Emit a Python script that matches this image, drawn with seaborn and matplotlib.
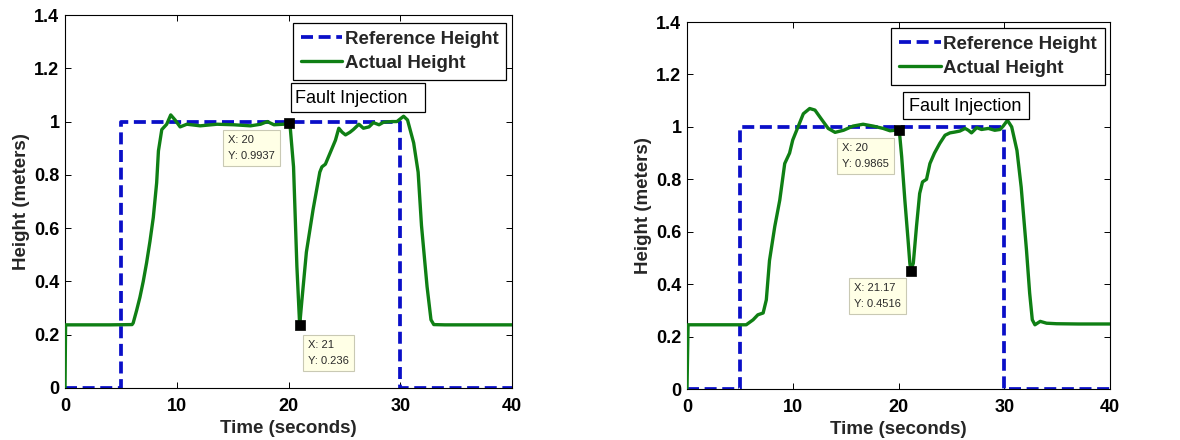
import numpy as np
import pandas as pd
import matplotlib
matplotlib.use("Agg")
import matplotlib.pyplot as plt
import seaborn as sns
from matplotlib.patches import Rectangle

sns.set_style("ticks")
plt.rcParams['font.family'] = ['Liberation Sans', 'DejaVu Sans']

# ---------------- data ----------------
ref_time = [0, 5, 5, 30, 30, 40]
ref_height = [0, 0, 1, 1, 0, 0]

left_time = [0, 0.05, 2, 4, 6.0, 6.1, 6.4, 6.7, 7.0, 7.3, 7.6, 7.9, 8.2, 8.36, 8.66,
             9.1, 9.46, 9.85, 10.3, 10.9, 12.1, 13.6, 15.1, 16.6, 17.5, 18.1, 18.7,
             19.55, 20.0, 20.15, 20.45, 20.75, 20.96, 21.0, 21.2, 21.6, 22.2, 22.8,
             22.99, 23.3, 23.7, 24.2, 24.5, 24.8, 25.1, 25.5, 25.8, 26.3, 26.7, 27.2,
             27.6, 28.1, 28.5, 29.25, 29.7, 30.3, 30.65, 31.2, 31.6, 31.9, 32.4,
             32.75, 33.0, 34, 36, 38, 40]
left_height = [0, 0.237, 0.237, 0.237, 0.238, 0.244, 0.29, 0.34, 0.40, 0.47, 0.55,
               0.64, 0.77, 0.89, 0.97, 0.99, 1.025, 1.006, 0.98, 0.99, 0.984, 0.99,
               0.988, 0.984, 0.99, 1.0, 0.988, 0.99, 0.9937, 0.98, 0.83, 0.456, 0.27,
               0.236, 0.33, 0.51, 0.67, 0.81, 0.83, 0.84, 0.88, 0.93, 0.975, 0.96,
               0.95, 0.96, 0.97, 0.99, 0.975, 0.98, 0.996, 0.988, 0.9975, 1.0, 1.0,
               1.02, 1.006, 0.92, 0.81, 0.61, 0.38, 0.256, 0.238, 0.237, 0.237,
               0.237, 0.237]

right_time = [0, 0.1, 3, 5.6, 6.25, 6.7, 7.2, 7.5, 7.8, 8.3, 8.77, 9.24, 9.7, 10.0,
              10.5, 11.0, 11.6, 12.1, 12.7, 13.35, 14.0, 14.8, 15.7, 16.65, 17.6,
              18.55, 19.2, 19.65, 20.0, 20.1, 20.3, 20.6, 20.9, 21.07, 21.17, 21.4,
              21.7, 22.0, 22.27, 22.65, 22.97, 23.4, 23.9, 24.4, 24.86, 25.3, 25.8,
              26.3, 26.6, 26.9, 27.4, 27.85, 28.5, 29.1, 29.6, 29.9, 30.3, 30.7,
              31.2, 31.6, 32.1, 32.4, 32.65, 32.9, 33.4, 34.0, 34.95, 37, 40]
right_height = [0, 0.245, 0.245, 0.245, 0.264, 0.283, 0.29, 0.34, 0.49, 0.62, 0.72,
                0.86, 0.90, 0.95, 1.0, 1.05, 1.07, 1.064, 1.03, 0.994, 0.979, 0.987,
                1.003, 1.01, 1.003, 0.994, 0.985, 0.987, 0.9865, 0.975, 0.886, 0.72,
                0.57, 0.48, 0.4516, 0.48, 0.62, 0.746, 0.79, 0.80, 0.86, 0.90, 0.937,
                0.968, 0.977, 0.98, 0.984, 0.994, 0.987, 0.977, 0.997, 0.99, 0.994,
                0.987, 0.99, 1.003, 1.025, 1.0, 0.91, 0.77, 0.53, 0.366, 0.264, 0.245,
                0.258, 0.251, 0.249, 0.248, 0.248]

left_tip_x = [20, 21]
left_tip_y = [0.9937, 0.236]
right_tip_x = [20, 21.17]
right_tip_y = [0.9865, 0.4516]

x_ticks = [0, 10, 20, 30, 40]
y_ticks = [0, 0.2, 0.4, 0.6, 0.8, 1.0, 1.2, 1.4]
y_tick_labels = ["0", "0.2", "0.4", "0.6", "0.8", "1", "1.2", "1.4"]
legend_labels = ["Reference Height", "Actual Height"]
annot_text = "Fault Injection"

# ---------------- style ----------------
BLUE = "#0a0fc8"
GREEN = "#0f7f14"
TIP_FACE = "#ffffe6"
TIP_EDGE = "#c9c9b4"

fig = plt.figure(figsize=(11.8, 4.4), dpi=100)
axL = fig.add_axes([0.0551, 0.1182, 0.3788, 0.8477])
axR = fig.add_axes([0.5822, 0.1159, 0.3585, 0.8341])


def draw_panel(ax, t, h, tip_x, tip_y, leg_anchor, fault_box, fault_txt, tip_txt_pos):
    sns.lineplot(x=ref_time, y=ref_height, ax=ax, color=BLUE, linewidth=2.7,
                 estimator=None, sort=False, legend=False, zorder=2)
    ax.lines[-1].set_dashes((3.2, 1.5))
    sns.lineplot(x=t, y=h, ax=ax, color=GREEN, linewidth=2.4,
                 estimator=None, sort=False, legend=False, zorder=3)
    # data cursor markers
    sns.scatterplot(x=tip_x, y=tip_y, ax=ax, marker="s", s=45, color="black",
                    edgecolor="black", linewidth=0.5, zorder=5, legend=False)
    for (px, py), xv, yv in zip(tip_txt_pos, tip_x, tip_y):
        ax.text(px, py, f"X: {xv:g}\nY: {yv:g}", fontsize=8, color="#2a2a2a",
                ha="left", va="top", linespacing=1.75, zorder=6,
                bbox=dict(boxstyle="square,pad=0.45", facecolor=TIP_FACE,
                          edgecolor=TIP_EDGE, linewidth=0.8))

    ax.set_xlim(0, 40)
    ax.set_ylim(0, 1.4)
    ax.set_xticks(x_ticks)
    ax.set_xticklabels([str(v) for v in x_ticks])
    ax.set_yticks(y_ticks)
    ax.set_yticklabels(y_tick_labels)
    ax.tick_params(direction="in", top=True, right=True, length=4, width=0.7,
                   labelsize=13, pad=4, colors="black")
    ax.tick_params(axis="x", pad=7)
    for lab in ax.get_xticklabels() + ax.get_yticklabels():
        lab.set_fontweight("bold")
    for sp in ax.spines.values():
        sp.set_visible(True)
        sp.set_linewidth(0.8)
        sp.set_color("black")
    ax.set_xlabel("Time (seconds)", fontsize=13.5, fontweight="bold", labelpad=3.5)
    ax.set_ylabel("Height (meters)", fontsize=13.5, fontweight="bold", labelpad=3)

    handles = ax.lines[:2]
    leg = ax.legend(handles, legend_labels, loc="upper right", bbox_to_anchor=leg_anchor,
                    frameon=True, fancybox=False, edgecolor="black", framealpha=1,
                    prop=dict(weight="bold", size=13.5), handlelength=2.2,
                    handletextpad=0.15, labelspacing=0.36, borderpad=0.42,
                    borderaxespad=0)
    leg.get_frame().set_linewidth(0.9)

    x0, y0, x1, y1 = fault_box
    ax.add_patch(Rectangle((x0, y0), x1 - x0, y1 - y0, facecolor="white",
                           edgecolor="black", linewidth=0.9, zorder=4))
    ax.text(fault_txt[0], fault_txt[1], annot_text, fontsize=13, ha="left",
            va="center", zorder=5, color="black")


draw_panel(axL, left_time, left_height, left_tip_x, left_tip_y,
           leg_anchor=(0.987, 0.9786),
           fault_box=(20.2, 1.036, 32.2, 1.145), fault_txt=(20.6, 1.088),
           tip_txt_pos=[(14.6, 0.95), (21.75, 0.18)])
draw_panel(axR, right_time, right_height, right_tip_x, right_tip_y,
           leg_anchor=(0.988, 0.9837),
           fault_box=(20.43, 1.03, 32.34, 1.133), fault_txt=(20.95, 1.078),
           tip_txt_pos=[(14.63, 0.94), (15.8, 0.403)])

fig.savefig("out.png", dpi=100, facecolor="white")
